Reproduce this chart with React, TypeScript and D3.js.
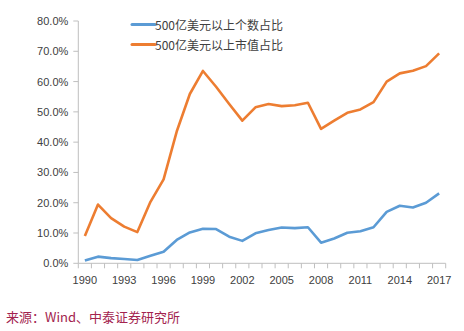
import React from "react";
import * as d3 from "d3";

const years: number[] = d3.range(1990, 2018);
const countShare: number[] = [0.9, 2.2, 1.7, 1.4, 1.1, 2.5, 3.8, 7.7, 10.2, 11.4, 11.3, 8.8, 7.4, 9.9, 11.0, 11.8, 11.6, 11.9, 6.8, 8.2, 10.1, 10.6, 11.9, 17.0, 19.0, 18.4, 20.0, 23.1];
const capShare: number[] = [9.0, 19.4, 14.9, 12.1, 10.3, 20.3, 27.7, 43.5, 55.9, 63.5, 58.3, 52.6, 47.1, 51.5, 52.6, 51.9, 52.2, 53.0, 44.4, 47.1, 49.7, 50.8, 53.2, 60.0, 62.7, 63.6, 65.1, 69.3];
const yTicks: number[] = [0, 10, 20, 30, 40, 50, 60, 70, 80];
const xLabelYears: number[] = [1990, 1993, 1996, 1999, 2002, 2005, 2008, 2011, 2014, 2017];
const seriesNames: string[] = ["500亿美元以上个数占比", "500亿美元以上市值占比"];
const sourceText = "来源：Wind、中泰证券研究所";

const W = 464;
const H = 331;
const left = 78.3;
const right = 445.7;
const top = 21;
const bottom = 263.3;
const blue = "#5B9BD5";
const orange = "#ED7D31";
const axisColor = "#BFBFBF";
const font = "'Liberation Sans', Arial, sans-serif";

export default function App() {
  const band = d3.scaleBand<number>().domain(years).range([left, right]).padding(0);
  const x = (yr: number) => (band(yr) as number) + band.bandwidth() / 2;
  const y = d3.scaleLinear().domain([0, 80]).range([bottom, top]);
  const line = d3
    .line<number>()
    .x((_, i) => x(years[i]))
    .y((d) => y(d))
    .curve(d3.curveLinear);

  const tickXs = d3.range(years.length + 1).map((i) => left + i * band.step());

  return (
    <svg
      width={W}
      height={H}
      style={{ position: "absolute", left: 0, top: 0, background: "#fff" }}
    >
      <rect x={0} y={0} width={W} height={H} fill="#fff" />
      {/* y axis */}
      <line x1={left} x2={left} y1={top} y2={bottom} stroke={axisColor} strokeWidth={1} />
      {yTicks.map((t) => (
        <g key={t}>
          <line x1={left - 5} x2={left} y1={y(t)} y2={y(t)} stroke={axisColor} strokeWidth={1} />
          <text
            x={left - 10}
            y={y(t)}
            textAnchor="end"
            dominantBaseline="central"
            fontFamily={font}
            fontSize={11}
            fill="#404040"
          >
            {t.toFixed(1) + "%"}
          </text>
        </g>
      ))}
      {/* x axis */}
      <line x1={left} x2={right} y1={bottom} y2={bottom} stroke={axisColor} strokeWidth={1} />
      {tickXs.map((tx, i) => (
        <line key={i} x1={tx} x2={tx} y1={bottom} y2={bottom + 5} stroke={axisColor} strokeWidth={1} />
      ))}
      {xLabelYears.map((yr) => (
        <text
          key={yr}
          x={x(yr)}
          y={bottom + 17}
          textAnchor="middle"
          dominantBaseline="central"
          fontFamily={font}
          fontSize={11}
          fill="#404040"
        >
          {yr}
        </text>
      ))}
      {/* lines */}
      <path d={line(capShare) || ""} fill="none" stroke={orange} strokeWidth={2.6} strokeLinejoin="round" />
      <path d={line(countShare) || ""} fill="none" stroke={blue} strokeWidth={2.6} strokeLinejoin="round" />
      {/* legend */}
      {seriesNames.map((name, i) => (
        <g key={name}>
          <line
            x1={132}
            x2={155}
            y1={24.5 + i * 20}
            y2={24.5 + i * 20}
            stroke={i === 0 ? blue : orange}
            strokeWidth={3}
            strokeLinecap="round"
          />
          <text
            x={155}
            y={24.5 + i * 20}
            dominantBaseline="central"
            fontFamily="'Noto Sans CJK SC', sans-serif"
            fontSize={12}
            fill="#404040"
          >
            {name}
          </text>
        </g>
      ))}
      {/* source */}
      <text
        x={6}
        y={316}
        dominantBaseline="central"
        fontFamily="'Noto Sans CJK SC', sans-serif"
        fontSize={13}
        fill="#A3234E"
      >
        {sourceText}
      </text>
    </svg>
  );
}
